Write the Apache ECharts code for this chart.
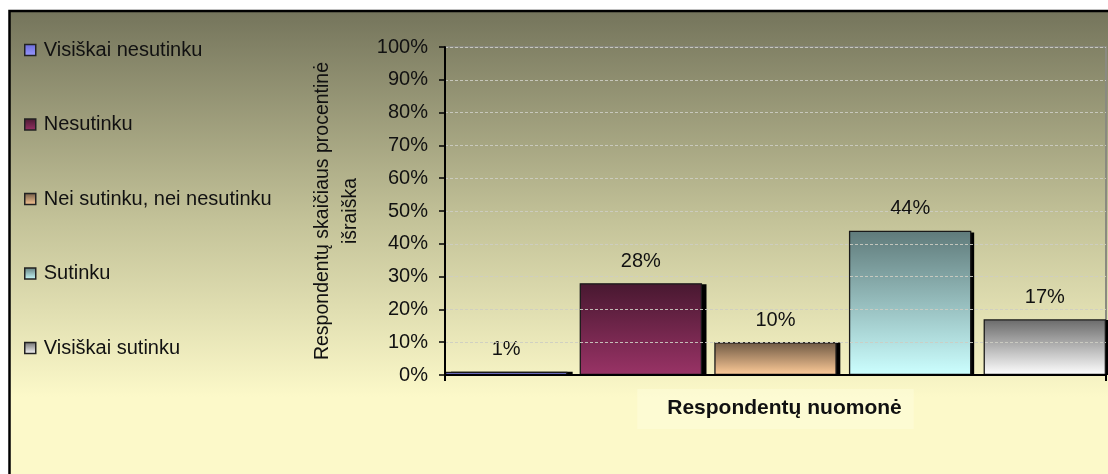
<!DOCTYPE html>
<html>
<head>
<meta charset="utf-8">
<script src="https://cdn.jsdelivr.net/npm/echarts@6/dist/echarts.min.js"></script>
<style>
html,body{margin:0;padding:0;background:#fff;}
#c{width:1108px;height:474px;}
</style>
</head>
<body>
<div id="c"></div>
<script>
const categories = ['Visiškai nesutinku', 'Nesutinku', 'Nei sutinku, nei nesutinku', 'Sutinku', 'Visiškai sutinku'];
const values = [1, 28, 10, 44, 17];
const topColors = ['#6a6ad8', '#481830', '#6e5843', '#5f7a7a', '#6a6a6a'];
const bottomColors = ['#9999ff', '#993366', '#ffcc99', '#ccffff', '#ffffff'];
const yAxisName = 'Respondentų skaičiaus procentinė\nišraiška';
const xAxisName = 'Respondentų nuomonė';

const FONT = 'Liberation Sans, Arial, sans-serif';
const chart = echarts.init(document.getElementById('c'));

const mainSeries = categories.map((name, i) => ({
  name: name,
  type: 'bar',
  xAxisIndex: 0,
  yAxisIndex: 0,
  z: 3,
  data: [values[i]],
  barGap: '10%',
  barCategoryGap: '0%',
  itemStyle: {
    color: new echarts.graphic.LinearGradient(0, 0, 0, 1, [
      { offset: 0, color: topColors[i] },
      { offset: 1, color: bottomColors[i] }
    ]),
    borderColor: '#1a1a1a',
    borderWidth: 1.3
  },
  label: {
    show: true,
    position: 'top',
    distance: 12,
    formatter: '{c}%',
    color: '#111',
    fontSize: 20,
    fontFamily: FONT
  }
}));

// drop shadows: same values drawn in an offset twin grid
const shadowSeries = categories.map((name, i) => ({
  type: 'bar',
  xAxisIndex: 1,
  yAxisIndex: 1,
  z: 2,
  silent: true,
  data: [values[i]],
  barGap: '10%',
  barCategoryGap: '0%',
  itemStyle: { color: '#000', borderWidth: 0 },
  label: { show: false }
}));

chart.setOption({
  backgroundColor: '#ffffff',
  animation: false,
  graphic: [{
    type: 'rect',
    z: -100,
    silent: true,
    shape: { x: 9.5, y: 11, width: 1110, height: 470 },
    style: {
      fill: new echarts.graphic.LinearGradient(0, 0, 0, 1, [
        { offset: 0, color: '#74745b' },
        { offset: 0.45, color: '#c4c399' },
        { offset: 0.82, color: '#fcf9c9' },
        { offset: 1, color: '#fcf9c9' }
      ]),
      stroke: '#000',
      lineWidth: 2.5
    }
  }],
  legend: {
    orient: 'vertical',
    left: 24,
    top: 40,
    padding: 0,
    itemGap: 54.5,
    itemWidth: 11,
    itemHeight: 11,
    icon: 'rect',
    data: categories,
    textStyle: { color: '#111', fontSize: 20, fontFamily: FONT, padding: [0, 0, 0, 3] },
    itemStyle: { borderWidth: 1.5, borderColor: '#222' }
  },
  grid: [{
    left: 445,
    width: 661,
    top: 47,
    height: 328,
    show: true,
    borderColor: '#8a8a80',
    borderWidth: 2,
    backgroundColor: 'transparent'
  }, {
    left: 451,
    width: 661,
    top: 51,
    height: 324,
    show: false
  }],
  xAxis: [{
    type: 'category',
    gridIndex: 0,
    data: [''],
    name: xAxisName,
    nameLocation: 'middle',
    nameGap: 14,
    nameTextStyle: {
      color: '#111',
      fontSize: 21,
      fontWeight: 'bold',
      fontFamily: FONT,
      backgroundColor: 'rgba(255,254,230,0.35)',
      padding: [9, 12, 10, 30]
    },
    z: 5,
    axisLine: { lineStyle: { color: '#000', width: 2 } },
    axisTick: { show: true, length: 6, lineStyle: { color: '#000', width: 2 } },
    axisLabel: { show: false }
  }, {
    type: 'category',
    gridIndex: 1,
    data: [''],
    show: false
  }],
  yAxis: [{
    type: 'value',
    gridIndex: 0,
    min: 0,
    max: 100,
    interval: 10,
    name: yAxisName,
    nameLocation: 'middle',
    nameGap: 80,
    nameTextStyle: {
      color: '#111',
      fontSize: 19.5,
      fontFamily: FONT,
      lineHeight: 28,
      align: 'center'
    },
    z: 5,
    axisLine: { show: true, lineStyle: { color: '#000', width: 2 } },
    axisTick: { show: true, length: 6, lineStyle: { color: '#000', width: 1.5 } },
    axisLabel: {
      formatter: '{value}%',
      color: '#111',
      fontSize: 20,
      fontFamily: FONT,
      margin: 17
    },
    splitLine: { lineStyle: { color: 'rgba(205,205,195,0.9)', type: [3, 2], width: 1 } }
  }, {
    type: 'value',
    gridIndex: 1,
    min: 0,
    max: 100,
    interval: 10,
    show: false,
    splitLine: { show: false }
  }],
  series: mainSeries.concat(shadowSeries)
});
</script>
</body>
</html>
